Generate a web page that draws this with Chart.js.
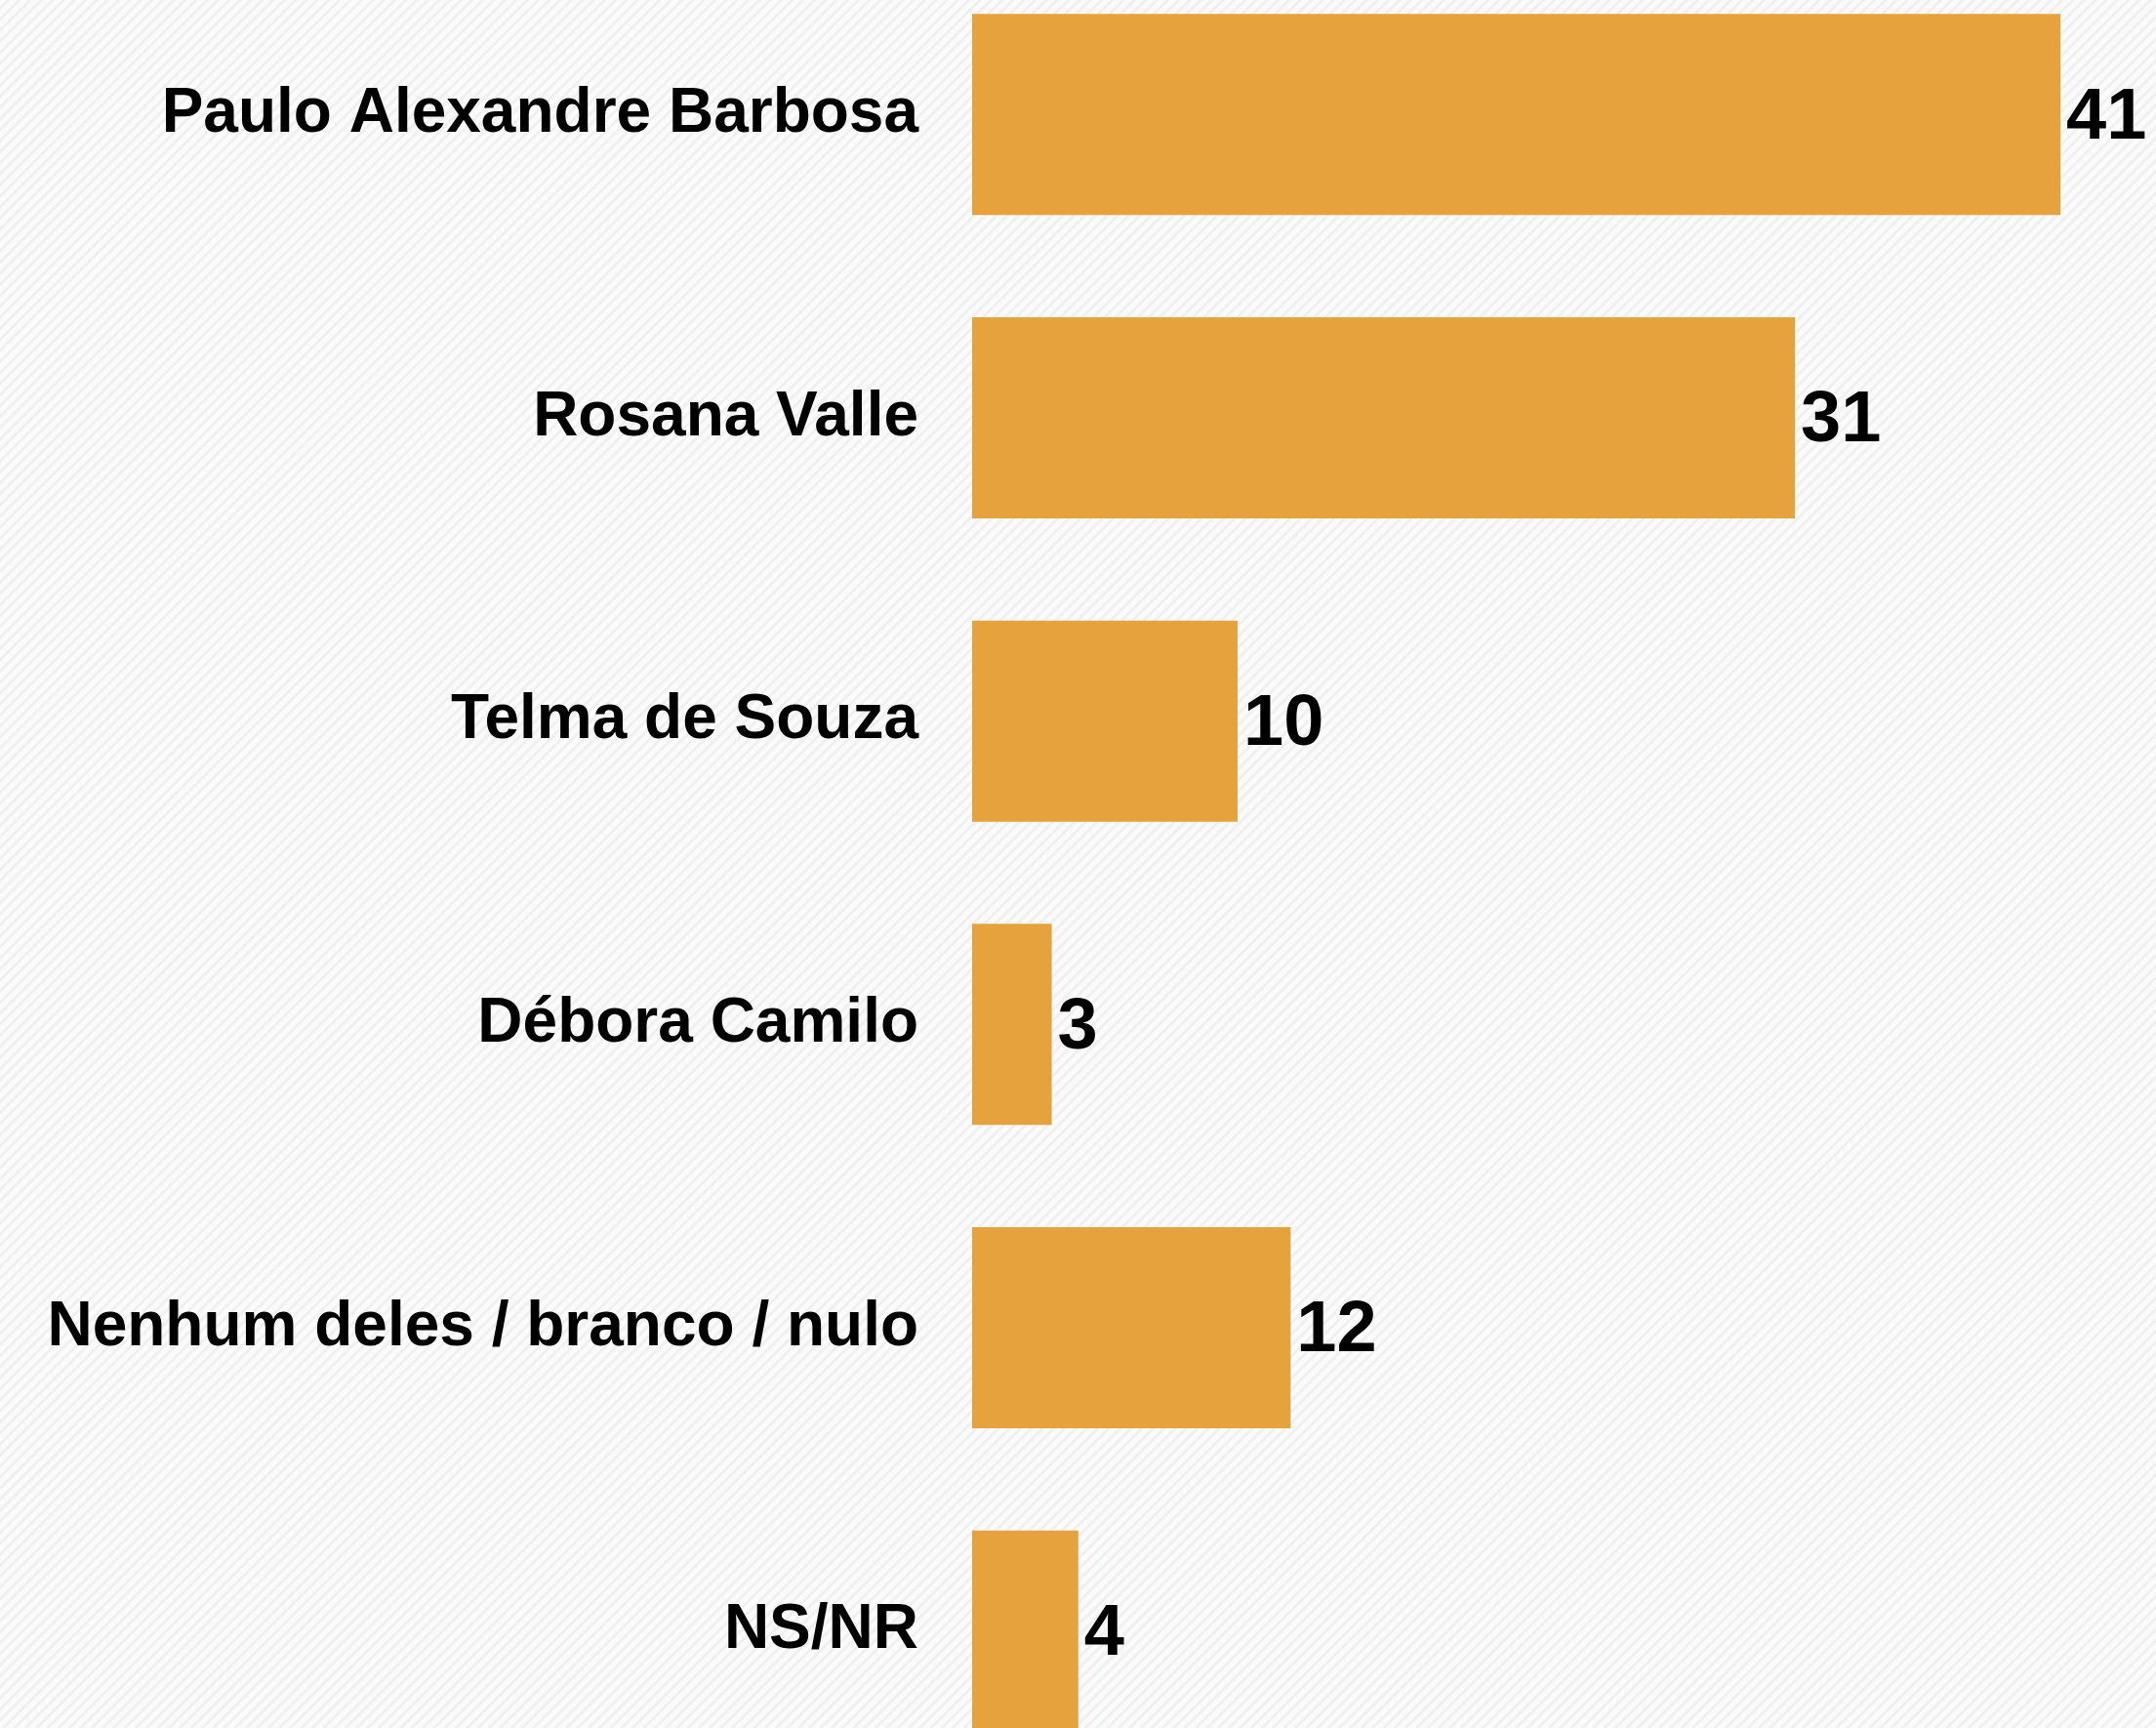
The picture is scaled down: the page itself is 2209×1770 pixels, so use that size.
<!DOCTYPE html>
<html>
<head>
<meta charset="utf-8">
<script src="https://cdn.jsdelivr.net/npm/chart.js@4.4.1/dist/chart.umd.min.js"></script>
<style>
  html, body { margin: 0; padding: 0; width: 2209px; height: 1770px; overflow: hidden; }
  body {
    background-color: #fafafa;
    background-image: repeating-linear-gradient(135deg, #fbfbfb 0px, #fbfbfb 4px, #f0f0f0 5px, #f0f0f0 7px, #fbfbfb 8px);
  }
  #c { position: absolute; left: 0; top: -38px; width: 2209px; height: 1864px; }
</style>
</head>
<body>
<canvas id="c" width="2209" height="1864"></canvas>
<script>
const categories = ["Paulo Alexandre Barbosa", "Rosana Valle", "Telma de Souza", "Débora Camilo", "Nenhum deles / branco / nulo", "NS/NR"];
const values = [41, 31, 10, 3, 12, 4];
const valueLabels = ["41", "31", "10", "3", "12", "4"];

const FONT = "'Liberation Sans', Arial, Helvetica, sans-serif";

const valueLabelPlugin = {
  id: 'valueLabels',
  afterDatasetsDraw(chart) {
    const ctx = chart.ctx;
    const meta = chart.getDatasetMeta(0);
    ctx.save();
    ctx.font = "bold 74px " + FONT;
    ctx.fillStyle = "#000";
    ctx.textAlign = "left";
    ctx.textBaseline = "middle";
    meta.data.forEach((bar, i) => {
      ctx.fillText(valueLabels[i], bar.x + 6, bar.y + 4);
    });
    ctx.restore();
  }
};

new Chart(document.getElementById('c'), {
  type: 'bar',
  data: {
    labels: categories,
    datasets: [{
      data: values,
      backgroundColor: '#E6A23D',
      borderWidth: 0,
      categoryPercentage: 1,
      barPercentage: 0.663
    }]
  },
  options: {
    indexAxis: 'y',
    responsive: false,
    maintainAspectRatio: false,
    devicePixelRatio: 1,
    animation: false,
    layout: { padding: 0 },
    plugins: { legend: { display: false }, tooltip: { enabled: false } },
    scales: {
      x: {
        display: false,
        min: 0,
        max: 44.6
      },
      y: {
        grid: { display: false, drawTicks: false },
        border: { display: false },
        ticks: {
          color: '#000',
          padding: 55,
          font: { family: FONT, size: 64, weight: 'bold' }
        },
        afterFit(scale) {
          scale.width = 996;
          scale.paddingTop = 0;
          scale.paddingBottom = 0;
        }
      }
    }
  },
  plugins: [valueLabelPlugin]
});
</script>
</body>
</html>
